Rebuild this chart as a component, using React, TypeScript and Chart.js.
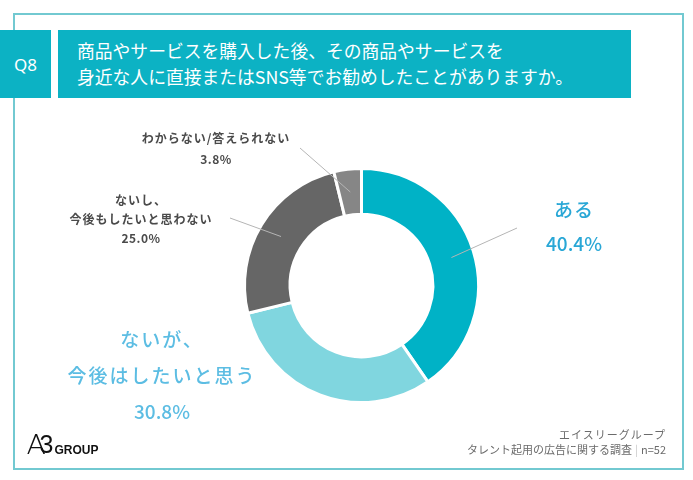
import React, { useEffect, useRef } from "react";
import { Chart, registerables } from "chart.js";

Chart.register(...registerables);

const questionNo = "Q8";
const titleLines = [
  "商品やサービスを購入した後、その商品やサービスを",
  "身近な人に直接またはSNS等でお勧めしたことがありますか。",
];
const categories = [
  "ある",
  "ないが、今後はしたいと思う",
  "ないし、今後もしたいと思わない",
  "わからない/答えられない",
];
const categoryLines = [
  ["ある"],
  ["ないが、", "今後はしたいと思う"],
  ["ないし、", "今後もしたいと思わない"],
  ["わからない/答えられない"],
];
const values = [40.4, 30.8, 25.0, 3.8];
const sourceLines = ["エイスリーグループ", "タレント起用の広告に関する調査", "n=52"];

const segColors = ["#00b2c6", "#80d6df", "#666666", "#868686"];
const FONT = '"Noto Sans CJK JP", "Noto Sans", sans-serif';

// label styles / layout (positions of text blocks, leader line ends)
const labelLayout = [
  { x: 574, y: 210, gap: 34, size: 19, weight: "500", color: "#29a7d6", spacing: "1px", pctSpacing: "0px", leader: [517, 228] },
  { x: 162, y: 340, gap: 36, size: 19, weight: "500", color: "#5cbde3", spacing: "2px", pctSpacing: "0px", leader: null },
  { x: 141, y: 200, gap: 19, size: 12, weight: "bold", color: "#4a4a4a", spacing: "1px", pctSpacing: "0.5px", leader: [230, 218] },
  { x: 216, y: 138, gap: 21, size: 12, weight: "bold", color: "#4a4a4a", spacing: "1px", pctSpacing: "0.5px", leader: [300, 148] },
];

const labelPlugin = {
  id: "donutLabels",
  afterDatasetsDraw(chart: any) {
    const ctx = chart.ctx;
    const meta = chart.getDatasetMeta(0);
    meta.data.forEach((arc: any, i: number) => {
      const L = labelLayout[i];
      const p = arc.tooltipPosition();
      ctx.save();
      if (L.leader) {
        ctx.strokeStyle = "#b5b5b5";
        ctx.lineWidth = 1;
        ctx.beginPath();
        ctx.moveTo(p.x, p.y);
        ctx.lineTo(L.leader[0], L.leader[1]);
        ctx.stroke();
      }
      ctx.fillStyle = L.color;
      ctx.textAlign = "center";
      ctx.textBaseline = "middle";
      ctx.font = `${L.weight} ${L.size}px ${FONT}`;
      const lines = categoryLines[i];
      lines.forEach((t, k) => {
        (ctx as any).letterSpacing = L.spacing;
        ctx.fillText(t, L.x, L.y + k * L.gap);
      });
      (ctx as any).letterSpacing = L.pctSpacing;
      ctx.fillText(`${values[i].toFixed(1)}%`, L.x, L.y + lines.length * L.gap);
      ctx.restore();
    });
  },
};

export default function App() {
  const ref = useRef<HTMLCanvasElement | null>(null);
  useEffect(() => {
    if (!ref.current) return;
    const chart = new Chart(ref.current, {
      type: "doughnut",
      data: {
        labels: categories,
        datasets: [
          {
            data: values,
            backgroundColor: segColors,
            borderColor: "#ffffff",
            borderWidth: 3,
          },
        ],
      },
      options: {
        responsive: false,
        animation: false,
        devicePixelRatio: 1,
        cutout: "61%",
        layout: { padding: { left: 243, right: 213, top: 167, bottom: 76 } },
        plugins: { legend: { display: false }, tooltip: { enabled: false } },
      },
      plugins: [labelPlugin],
    });
    return () => chart.destroy();
  }, []);

  return (
    <div style={{ position: "fixed", left: 0, top: 0, width: 693, height: 480, background: "#fff", overflow: "hidden", fontFamily: FONT }}>
      <div style={{ position: "absolute", left: 13, top: 13, width: 667, height: 453, border: "2px solid #72c9d1" }} />
      <canvas ref={ref} width={693} height={480} style={{ position: "absolute", left: 0, top: 0, width: 693, height: 480 }} />
      <div style={{ position: "absolute", left: 0, top: 30, width: 51, height: 68, background: "#0cb2c4", color: "#fff", display: "flex", alignItems: "center", justifyContent: "center", fontSize: 17, fontFamily: '"Noto Sans", sans-serif' }}>
        {questionNo}
      </div>
      <div style={{ position: "absolute", left: 58, top: 30, width: 573, height: 68, background: "#0cb2c4", color: "#fff" }}>
        <div style={{ position: "absolute", left: 19, top: 7, fontSize: 17.8, lineHeight: "26px", whiteSpace: "nowrap" }}>
          {titleLines.map((t, i) => (
            <div key={i}>{t}</div>
          ))}
        </div>
      </div>
      <div style={{ position: "absolute", left: 27, top: 430, height: 28, display: "flex", alignItems: "flex-end", color: "#111", whiteSpace: "nowrap" }}>
        <span style={{ fontSize: 27, fontWeight: 300, lineHeight: "27px", fontFamily: '"DejaVu Sans", sans-serif', transform: "scaleX(1.05)" }}>A</span>
        <span style={{ fontSize: 25, fontWeight: 300, lineHeight: "27px", marginLeft: -6, fontFamily: '"Liberation Sans", sans-serif' }}>3</span>
        <span style={{ fontSize: 12, fontWeight: 700, lineHeight: "15px", marginLeft: 1, fontFamily: '"Liberation Sans", sans-serif' }}>GROUP</span>
      </div>
      <div style={{ position: "absolute", right: 27, top: 427, textAlign: "right", fontSize: 11, lineHeight: "15px", color: "#6b6b6b", whiteSpace: "nowrap" }}>
        <div style={{ letterSpacing: 1 }}>{sourceLines[0]}</div>
        <div>
          {sourceLines[1]}
          <span style={{ color: "#c8c8c8", margin: "0 3px" }}>|</span>
          {sourceLines[2]}
        </div>
      </div>
    </div>
  );
}
